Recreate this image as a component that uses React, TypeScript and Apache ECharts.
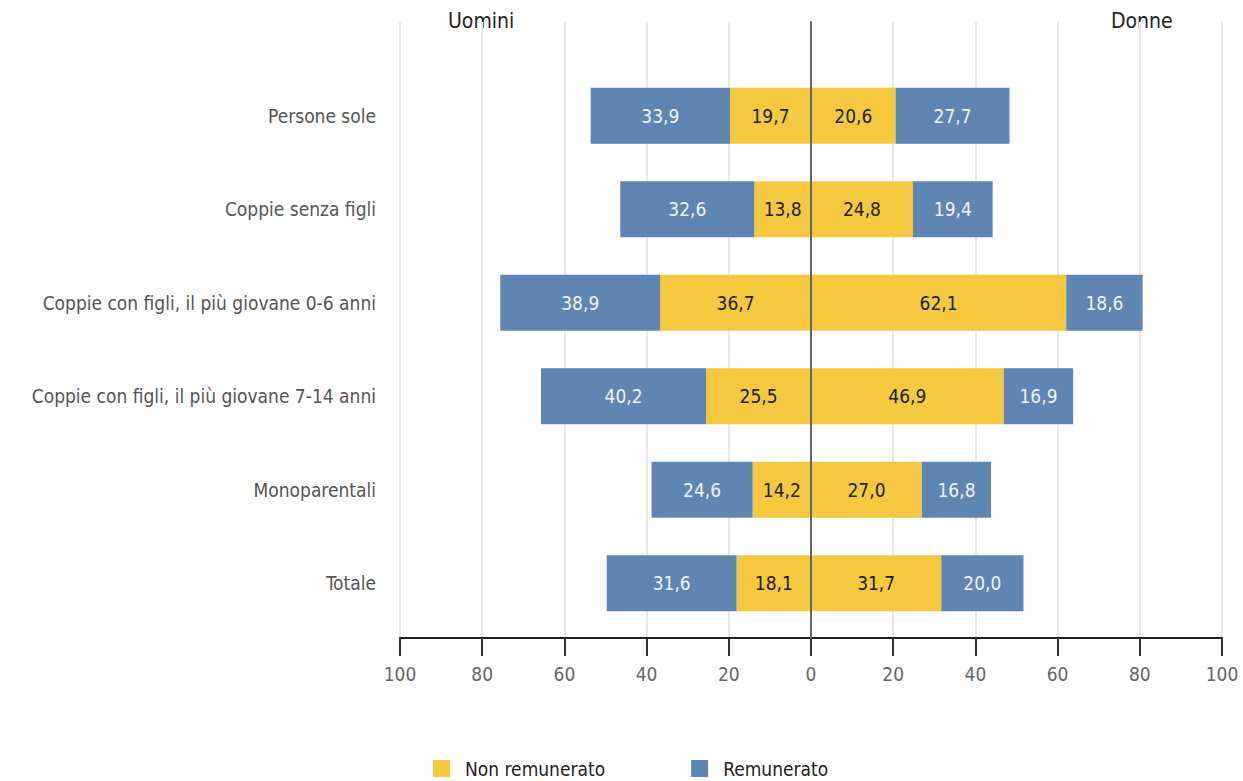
import React, { useEffect, useRef } from "react";
import * as echarts from "echarts";

const categories = [
  "Persone sole",
  "Coppie senza figli",
  "Coppie con figli, il più giovane 0-6 anni",
  "Coppie con figli, il più giovane 7-14 anni",
  "Monoparentali",
  "Totale",
];
const menUnpaid = [19.7, 13.8, 36.7, 25.5, 14.2, 18.1];
const menPaid = [33.9, 32.6, 38.9, 40.2, 24.6, 31.6];
const womenUnpaid = [20.6, 24.8, 62.1, 46.9, 27.0, 31.7];
const womenPaid = [27.7, 19.4, 18.6, 16.9, 16.8, 20.0];
const legendNames = ["Non remunerato", "Remunerato"];
const sideTitles = ["Uomini", "Donne"];

const FONT = "'Liberation Sans Narrow', 'DejaVu Sans Condensed', 'Roboto', sans-serif";
const YELLOW = "#f4c83f";
const BLUE = "#5f86b2";

const fmt = (v: number) => Math.abs(v).toFixed(1).replace(".", ",");

export default function App() {
  const ref = useRef<HTMLDivElement>(null);
  useEffect(() => {
    if (!ref.current) return;
    const chart = echarts.init(ref.current, null, { renderer: "svg" });
    const label = (color: string) => ({
      show: true,
      position: "inside",
      color,
      fontFamily: FONT,
      fontSize: 19,
      formatter: (p: any) => fmt(p.value),
    });
    const bar = (name: string, data: number[], color: string, labelColor: string) => ({
      type: "bar",
      name,
      stack: "total",
      data,
      barWidth: 56,
      xAxisIndex: 0,
      yAxisIndex: 0,
      itemStyle: { color },
      label: label(labelColor),
      z: 2,
    });
    chart.setOption({
      animation: false,
      legend: {
        data: legendNames,
        left: 428,
        top: 754,
        itemWidth: 17,
        itemHeight: 17,
        itemGap: 86,
        icon: "rect",
        textStyle: { fontFamily: FONT, fontSize: 19, color: "#222", padding: [0, 0, 0, 10] },
      },
      grid: [
        { left: 400, right: 21, top: 69, bottom: 151, containLabel: false },
        { left: 400, right: 21, top: 22, bottom: 143, containLabel: false },
      ],
      xAxis: [
        {
          type: "value",
          gridIndex: 0,
          min: -100,
          max: 100,
          interval: 20,
          offset: 8,
          axisLine: { show: true, onZero: false, lineStyle: { color: "#222", width: 2 } },
          axisTick: { show: true, length: 18, lineStyle: { color: "#333", width: 2 } },
          axisLabel: {
            formatter: (v: number) => String(Math.abs(v)),
            color: "#666",
            fontFamily: FONT,
            fontSize: 19,
            margin: 26,
          },
          splitLine: { show: false },
        },
        {
          type: "value",
          gridIndex: 1,
          min: -100,
          max: 100,
          interval: 20,
          axisLine: { show: false },
          axisTick: { show: false },
          axisLabel: { show: false },
          splitLine: { show: true, lineStyle: { color: "#e8e8e8", width: 2 } },
          z: 0,
        },
      ],
      yAxis: [
        {
          type: "category",
          gridIndex: 0,
          data: categories,
          inverse: true,
          axisLine: { show: false },
          axisTick: { show: false },
          axisLabel: { color: "#555", fontFamily: FONT, fontSize: 19, margin: 24 },
          splitLine: { show: false },
        },
        {
          type: "value",
          gridIndex: 1,
          min: 0,
          max: 1,
          axisLine: { show: true, onZero: true, lineStyle: { color: "#666", width: 2 } },
          axisTick: { show: false },
          axisLabel: { show: false },
          splitLine: { show: false },
          z: 5,
        },
      ],
      graphic: [
        {
          type: "text",
          left: 448,
          top: 10,
          style: { text: sideTitles[0], fontFamily: FONT, fontSize: 21, fill: "#222" },
        },
        {
          type: "text",
          left: 1111,
          top: 10,
          style: { text: sideTitles[1], fontFamily: FONT, fontSize: 21, fill: "#222" },
        },
      ],
      series: [
        bar(legendNames[0], menUnpaid.map((v) => -v), YELLOW, "#222"),
        bar(legendNames[1], menPaid.map((v) => -v), BLUE, "#eef2f7"),
        bar(legendNames[0], womenUnpaid, YELLOW, "#222"),
        bar(legendNames[1], womenPaid, BLUE, "#eef2f7"),
      ],
    });
    return () => chart.dispose();
  }, []);
  return (
    <div
      ref={ref}
      style={{ position: "fixed", left: 0, top: 0, width: 1243, height: 781, background: "#fff" }}
    />
  );
}
